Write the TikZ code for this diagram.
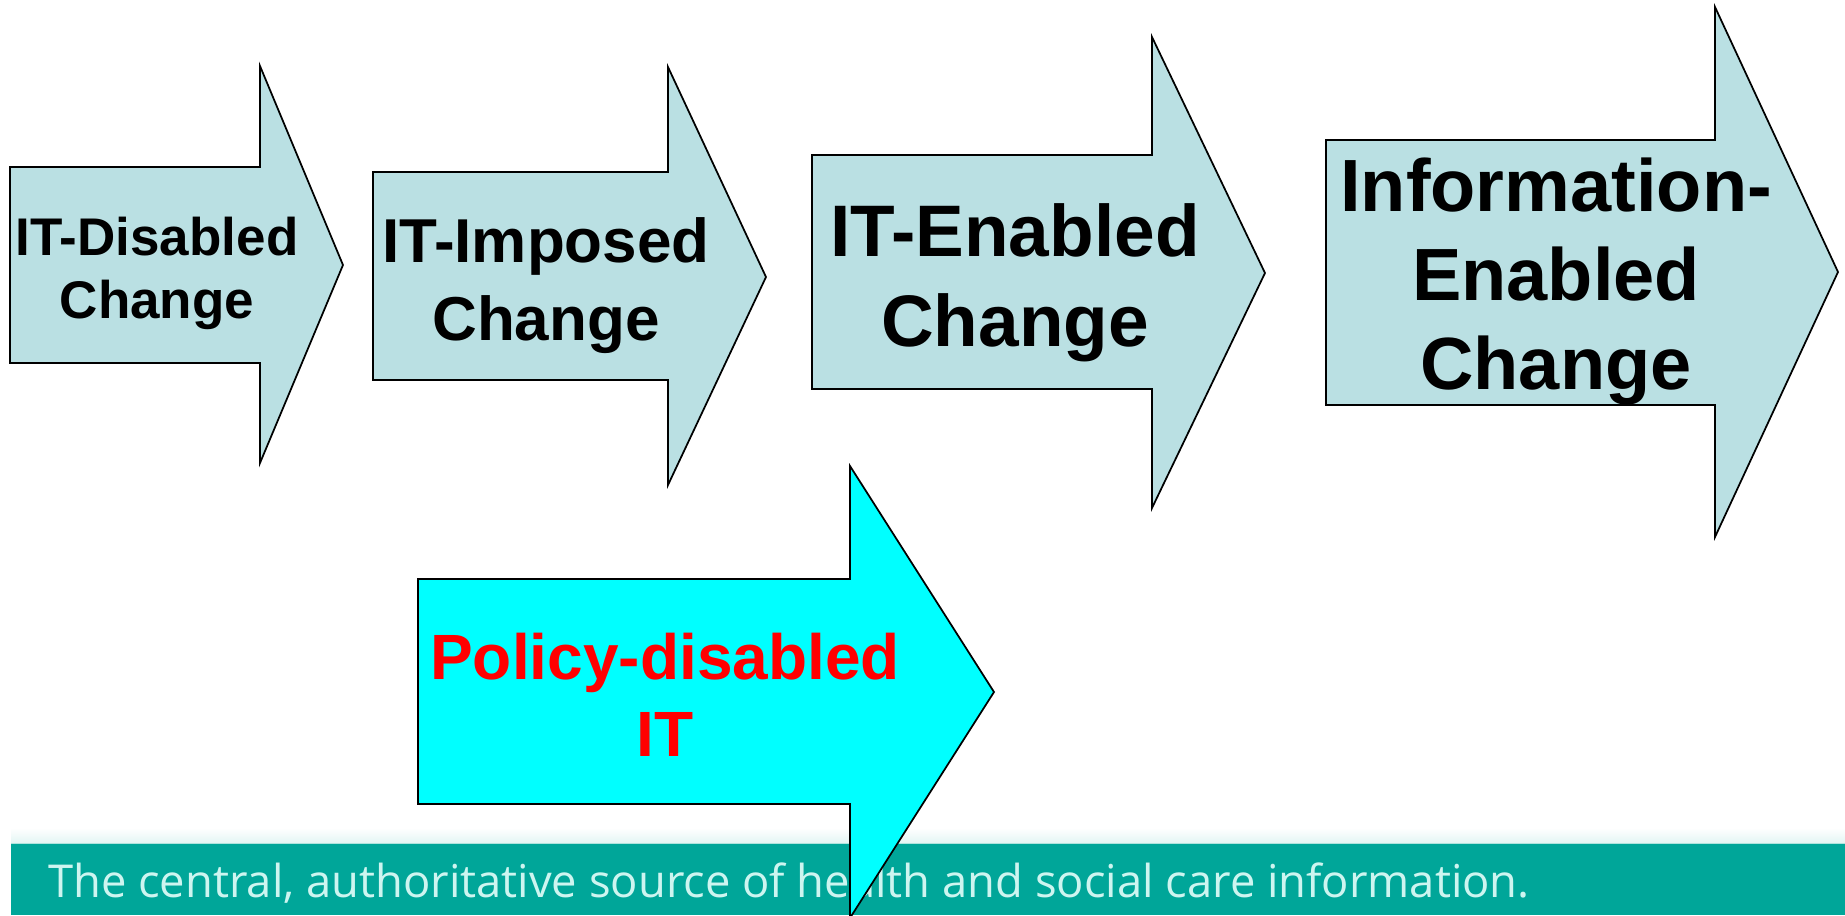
\documentclass[tikz,border=0pt]{standalone}
\usepackage{tikz}
\usepackage{xcolor}
\usepackage{fontspec}
\setmainfont{Liberation Sans}
\newfontfamily\footfont{Open Sans}

\definecolor{stageblue}{RGB}{186,224,227}
\definecolor{policycyan}{RGB}{0,255,255}
\definecolor{footteal}{RGB}{0,166,153}
\definecolor{foottext}{RGB}{205,245,240}
\definecolor{footline}{RGB}{175,228,222}

\begin{document}
\begin{tikzpicture}[x=0.75pt,y=0.75pt,yscale=-1,xscale=1,
  stagearrow/.style={draw=black,fill=stageblue,line width=1.3pt,line join=miter},
  policyarrow/.style={stagearrow,fill=policycyan},
  stagetext/.style={anchor=base,align=center,inner sep=0pt}]
\useasboundingbox (0,0) rectangle (1845,915);

%Footer band
\shade [top color=white,bottom color=footline!35] (11,828) rectangle (1845,843);
\fill [footteal] (11,843) rectangle (1845,915);
\draw [footline,line width=1pt] (11,843.5) -- (1845,843.5);
\node (foot) [anchor=base west,inner sep=0pt,text=foottext,font={\footfont\fontsize{34}{40}\selectfont}] at (48,897) {The central, authoritative source of health and social care information.};

%Shape: Arrow IT-disabled
\draw [stagearrow] (10,167) -- (260,167) -- (260,66) -- (343,265) -- (260,463) -- (260,363) -- (10,363) -- cycle;
%Shape: Arrow IT-imposed
\draw [stagearrow] (373,172) -- (668,172) -- (668,67) -- (766,277) -- (668,485) -- (668,380) -- (373,380) -- cycle;
%Shape: Arrow IT-enabled
\draw [stagearrow] (812,155) -- (1152,155) -- (1152,37) -- (1265,273) -- (1152,508) -- (1152,389) -- (812,389) -- cycle;
%Shape: Arrow information-enabled
\draw [stagearrow] (1326,140) -- (1715,140) -- (1715,7) -- (1838,272) -- (1715,537) -- (1715,405) -- (1326,405) -- cycle;
%Shape: Arrow policy-disabled
\draw [policyarrow] (418,579) -- (850,579) -- (850,466) -- (994,692) -- (850,918) -- (850,804) -- (418,804) -- cycle;

% Text Node (base = last line)
\node (disabled) [stagetext,font={\bfseries\fontsize{39.75}{47.25}\selectfont}] at (157,318) {IT-Disabled\\Change};
% Text Node
\node (imposed) [stagetext,font={\bfseries\fontsize{46.5}{58.5}\selectfont}] at (546,340) {IT-Imposed\\Change};
% Text Node
\node (enabled) [stagetext,font={\bfseries\fontsize{54.75}{67.5}\selectfont}] at (1015,346) {IT-Enabled\\Change};
% Text Node
\node (information) [stagetext,font={\bfseries\fontsize{55.5}{66.75}\selectfont}] at (1556,389) {Information-\\Enabled\\Change};
% Text Node
\node (policy) [stagetext,text=red,font={\bfseries\fontsize{48}{57.75}\selectfont}] at (665,756) {Policy-disabled\\IT};

\end{tikzpicture}
\end{document}
